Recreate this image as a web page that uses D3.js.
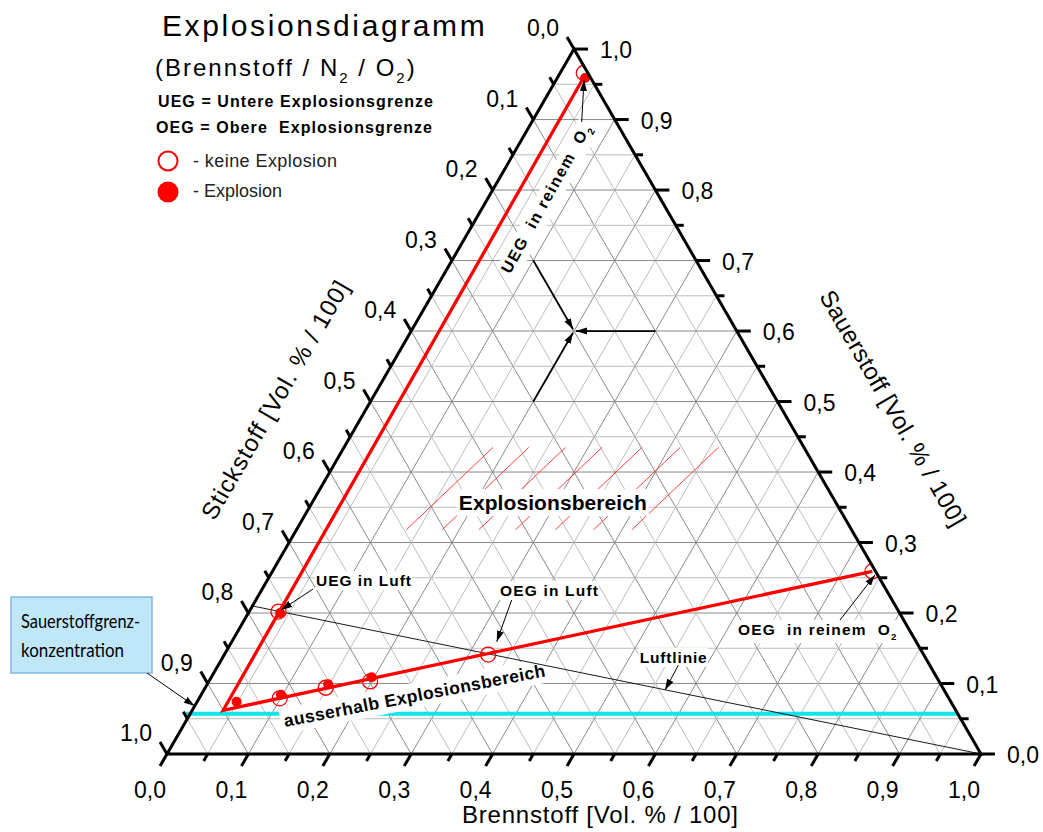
<!DOCTYPE html>
<html>
<head>
<meta charset="utf-8">
<script src="https://cdn.jsdelivr.net/npm/d3@7"></script>
<style>
body { margin: 0; background: #fff; }
svg { display: block; font-family: "Liberation Sans", Arial, sans-serif; }
</style>
</head>
<body>
<div id="chart"></div>
<script>
var w = 1043,
    h = 832;

// Werte als [Brennstoff, Sauerstoff], Stickstoff = 1 - beide
var tickLabels = [0, 0.1, 0.2, 0.3, 0.4, 0.5, 0.6, 0.7, 0.8, 0.9, 1.0];
var uegLine = [[0.032, 0.961], [0.038, 0.062]];
var oegLine = [[0.038, 0.062], [0.737, 0.259]];
var luftLine = [[0, 0.21], [1, 0]];
var sauerstoffGrenze = 0.057;
var keineExplosion = [[0.099, 0.079], [0.148, 0.094], [0.198, 0.103], [0.324, 0.141],
                      [0.036, 0.202], [0.029, 0.966], [0.737, 0.259]];
var explosion = [[0.0485, 0.074], [0.098, 0.084], [0.1485, 0.099], [0.197, 0.109],
                 [0.039, 0.200], [0.034, 0.959]];
var hatchF = [0.135, 0.179, 0.224, 0.269, 0.318, 0.365, 0.412];
var hatchO = [0.318, 0.435];
var readPoint = [0.2, 0.6];
var readFrom = [[0.1, 0.7], [0.3, 0.6], [0.2, 0.5]];

var palette = {
    red: '#ff0000',
    cyan: '#12e4ee',
    gridMajor: '#8a8a8a',
    gridMinor: '#bdbdbd'
};

var side = 814, x0 = 167, y0 = 754;
var s = d3.scaleLinear().domain([0, 1]).range([0, side]);
function tern(f, o) { return [x0 + s(f) + s(o) / 2, y0 - s(o) * Math.sqrt(3) / 2]; }
function tp(d) { return tern(d[0], d[1]); }
var fmt = d3.formatLocale({ decimal: ",", thousands: ".", grouping: [3], currency: ["", " €"] }).format(".1f");

var svg = d3.select('#chart').append('svg')
    .attr('width', w)
    .attr('height', h);

var defs = svg.append('defs');
defs.append('marker')
    .attr('id', 'head')
    .attr('markerUnits', 'userSpaceOnUse')
    .attr('viewBox', '0 -4 11 8')
    .attr('refX', 11).attr('refY', 0)
    .attr('markerWidth', 11).attr('markerHeight', 8)
    .attr('orient', 'auto')
    .append('path').attr('d', 'M0,-3.5L11,0L0,3.5Z').attr('fill', '#000');

var corners = [tern(0, 0), tern(1, 0), tern(0, 1)];
defs.append('clipPath').attr('id', 'tri')
    .append('path').attr('d', 'M' + corners.join('L') + 'Z');

// Gitter alle 0,05
var grid = svg.append('g');
d3.range(1, 20).forEach(function(i) {
    var k = i / 20;
    var col = i % 2 === 0 ? palette.gridMajor : palette.gridMinor;
    [[tern(0, k), tern(1 - k, k)],
     [tern(k, 0), tern(k, 1 - k)],
     [tern(0, 1 - k), tern(1 - k, 0)]].forEach(function(seg) {
        grid.append('line')
            .attr('x1', seg[0][0]).attr('y1', seg[0][1])
            .attr('x2', seg[1][0]).attr('y2', seg[1][1])
            .attr('stroke', col).attr('stroke-width', 1);
    });
});

// Sauerstoffgrenzkonzentration
var c1 = tern(0, sauerstoffGrenze), c2 = tern(1 - sauerstoffGrenze, sauerstoffGrenze);
svg.append('line')
    .attr('x1', c1[0] - 4).attr('y1', c1[1])
    .attr('x2', c2[0]).attr('y2', c2[1])
    .attr('stroke', palette.cyan).attr('stroke-width', 4);

// Schraffur Explosionsbereich
svg.append('g').selectAll('line')
    .data(hatchF).enter().append('line')
    .attr('x1', function(d) { return tern(d, hatchO[0])[0]; })
    .attr('y1', function(d) { return tern(d, hatchO[0])[1]; })
    .attr('x2', function(d) { return tern(d + 0.048, hatchO[1])[0]; })
    .attr('y2', function(d) { return tern(d + 0.048, hatchO[1])[1]; })
    .attr('stroke', '#ff2a2a').attr('stroke-width', 0.9);

// Beschriftungen mit weissem Hintergrund
function addLabel(pos, angle, build, pad, padBottom) {
    var g = svg.append('g').attr('transform', 'translate(' + pos + ') rotate(' + angle + ')');
    var bg = g.append('rect').attr('fill', '#fff');
    var t = g.append('text').attr('font-weight', 'bold').style('white-space', 'pre');
    build(t);
    var b = t.node().getBBox();
    var pb = padBottom === undefined ? pad : padBottom;
    bg.attr('x', b.x - pad).attr('y', b.y - pad)
        .attr('width', b.width + 2 * pad).attr('height', b.height + pad + pb);
    return t;
}
function sub(t, main, small) {
    t.append('tspan').text(main);
    t.append('tspan').attr('font-size', '0.62em').attr('dy', 5).text(small);
}

addLabel(tern(0.064, 0.238), 0, function(t) {
    t.attr('font-size', 15.5).attr('textLength', 95).attr('lengthAdjust', 'spacing').text('UEG in Luft');
}, 1);
addLabel(tern(0.297, 0.224), 0, function(t) {
    t.attr('font-size', 15.5).attr('textLength', 98).attr('lengthAdjust', 'spacing').text('OEG in Luft');
}, 1);
addLabel(tern(0.516, 0.1295), 0, function(t) {
    t.attr('font-size', 15.5).attr('textLength', 67).attr('lengthAdjust', 'spacing').text('Luftlinie');
}, 1);
addLabel(tern(0.617, 0.1688), 0, function(t) {
    t.attr('font-size', 15.5).attr('letter-spacing', 1.2);
    sub(t, 'OEG  in reinem  O', '2');
}, 1);
addLabel(tern(0.0713, 0.7887), -61, function(t) {
    t.attr('font-size', 16).attr('letter-spacing', 1.5)
        .attr('text-anchor', 'middle').attr('dy', '0.35em');
    sub(t, 'UEG  in reinem  O', '2');
}, 1);
addLabel(tern(0.301, 0.346), 0, function(t) {
    t.attr('font-size', 21).attr('text-anchor', 'middle')
        .attr('textLength', 188).attr('lengthAdjust', 'spacing')
        .text('Explosionsbereich');
}, 2);
addLabel(tern(0.1258, 0.0383), -11, function(t) {
    t.attr('font-size', 17.5).attr('textLength', 266).attr('lengthAdjust', 'spacing')
        .text('ausserhalb Explosionsbereich');
}, 3, 2.5);

// Luftlinie
var line = d3.line().x(function(d) { return tp(d)[0]; }).y(function(d) { return tp(d)[1]; });
svg.append('path').attr('d', line(luftLine))
    .attr('fill', 'none').attr('stroke', '#000').attr('stroke-width', 0.9);

// UEG / OEG
svg.append('path').attr('d', line(uegLine.concat(oegLine.slice(1))))
    .attr('fill', 'none').attr('stroke', palette.red)
    .attr('stroke-width', 3.3).attr('stroke-linejoin', 'miter');

var pts = svg.append('g').attr('clip-path', 'url(#tri)');
pts.selectAll('circle.e')
    .data(explosion).enter().append('circle')
    .attr('cx', function(d) { return tp(d)[0]; })
    .attr('cy', function(d) { return tp(d)[1]; })
    .attr('r', 5).attr('fill', palette.red);
pts.selectAll('circle.k')
    .data(keineExplosion).enter().append('circle')
    .attr('cx', function(d) { return tp(d)[0]; })
    .attr('cy', function(d) { return tp(d)[1]; })
    .attr('r', 7.5).attr('fill', 'none')
    .attr('stroke', palette.red).attr('stroke-width', 1.3);

// Pfeile
function arrow(a, b, shorten, width) {
    var dx = b[0] - a[0], dy = b[1] - a[1], len = Math.sqrt(dx * dx + dy * dy);
    var k = (len - (shorten || 0)) / len;
    svg.append('line')
        .attr('x1', a[0]).attr('y1', a[1])
        .attr('x2', a[0] + dx * k).attr('y2', a[1] + dy * k)
        .attr('stroke', '#000').attr('stroke-width', width || 1)
        .attr('marker-end', 'url(#head)');
}
arrow(tern(0.0624, 0.234), tern(0.038, 0.2043));
arrow(tern(0.3142, 0.2184), tern(0.3254, 0.1593));
arrow(tern(0.5652, 0.1262), tern(0.5665, 0.0908));
arrow(tern(0.7318, 0.190), tern(0.7428, 0.2539));
arrow(tern(0.0612, 0.8965), tern(0.0343, 0.956));
readFrom.forEach(function(d) { arrow(tp(d), tp(readPoint), 2, 1.8); });

// Rahmen und Achsen
svg.append('path').attr('d', 'M' + corners.join('L') + 'Z')
    .attr('fill', 'none').attr('stroke', '#000')
    .attr('stroke-width', 3).attr('stroke-linejoin', 'miter');

var sin60 = Math.sqrt(3) / 2;
var axes = [
    { pos: function(t) { return tern(t, 0); }, dir: [-0.5, sin60], off: [-17, 36], anchor: 'middle' },
    { pos: function(t) { return tern(1 - t, t); }, dir: [1, 0], off: [26, 1], anchor: 'start' },
    { pos: function(t) { return tern(0, 1 - t); }, dir: [-0.5, -sin60], off: [-31, -21], anchor: 'middle' }
];
var tickG = svg.append('g');
axes.forEach(function(ax) {
    d3.range(0, 21).forEach(function(i) {
        var p = ax.pos(i / 20), L = i % 2 === 0 ? 14 : 8;
        tickG.append('line')
            .attr('x1', p[0]).attr('y1', p[1])
            .attr('x2', p[0] + ax.dir[0] * L).attr('y2', p[1] + ax.dir[1] * L)
            .attr('stroke', '#000').attr('stroke-width', 3);
    });
    tickG.selectAll(null).data(tickLabels).enter().append('text')
        .attr('x', function(d) { return ax.pos(d)[0] + ax.off[0]; })
        .attr('y', function(d) { return ax.pos(d)[1] + ax.off[1]; })
        .attr('text-anchor', ax.anchor)
        .attr('dy', '0.35em')
        .attr('font-size', 23)
        .text(function(d) { return fmt(d); });
});

// Achsentitel
svg.append('text').attr('x', 600).attr('y', 823)
    .attr('text-anchor', 'middle').attr('font-size', 24)
    .attr('textLength', 276).attr('lengthAdjust', 'spacing')
    .text('Brennstoff [Vol. % / 100]');
svg.append('text').attr('transform', 'translate(275,400) rotate(-60)')
    .attr('text-anchor', 'middle').attr('dy', '0.35em').attr('font-size', 24)
    .attr('textLength', 271).attr('lengthAdjust', 'spacing')
    .text('Stickstoff [Vol. % / 100]');
svg.append('text').attr('transform', 'translate(893,408) rotate(60)')
    .attr('text-anchor', 'middle').attr('dy', '0.35em').attr('font-size', 24)
    .attr('textLength', 268).attr('lengthAdjust', 'spacing')
    .text('Sauerstoff [Vol. % / 100]');

// Titel und Legende
svg.append('text').attr('x', 162).attr('y', 36)
    .attr('font-size', 30).attr('letter-spacing', 2.6)
    .text('Explosionsdiagramm');
var st = svg.append('text').attr('x', 155).attr('y', 76)
    .attr('font-size', 24).attr('letter-spacing', 2);
st.append('tspan').text('(Brennstoff / N');
st.append('tspan').attr('font-size', 15).attr('dy', 7).text('2');
st.append('tspan').attr('dy', -7).text(' / O');
st.append('tspan').attr('font-size', 15).attr('dy', 7).text('2');
st.append('tspan').attr('dy', -7).text(')');

svg.append('text').attr('x', 158).attr('y', 107)
    .attr('font-size', 16).attr('font-weight', 'bold')
    .attr('textLength', 275).attr('lengthAdjust', 'spacing')
    .text('UEG = Untere Explosionsgrenze');
svg.append('text').attr('x', 156).attr('y', 133)
    .attr('font-size', 16).attr('font-weight', 'bold').style('white-space', 'pre')
    .attr('textLength', 276).attr('lengthAdjust', 'spacing')
    .text('OEG = Obere  Explosionsgrenze');

svg.append('circle').attr('cx', 168).attr('cy', 161).attr('r', 9.5)
    .attr('fill', 'none').attr('stroke', palette.red).attr('stroke-width', 2);
svg.append('circle').attr('cx', 168).attr('cy', 192).attr('r', 10.5)
    .attr('fill', palette.red);
svg.append('text').attr('x', 193).attr('y', 167)
    .attr('font-size', 18).attr('fill', '#222')
    .attr('textLength', 144).attr('lengthAdjust', 'spacing')
    .text('- keine Explosion');
svg.append('text').attr('x', 193).attr('y', 197)
    .attr('font-size', 18).attr('fill', '#222')
    .text('- Explosion');

// Sauerstoffgrenzkonzentration Hinweis
svg.append('rect').attr('x', 11).attr('y', 597).attr('width', 141).attr('height', 76)
    .attr('fill', '#bfe7f8').attr('stroke', '#86b6dc').attr('stroke-width', 1.5);
svg.append('text').attr('x', 21).attr('y', 628)
    .attr('font-family', 'Lato, sans-serif').attr('font-size', 20)
    .attr('textLength', 119).attr('lengthAdjust', 'spacingAndGlyphs')
    .text('Sauerstoffgrenz-');
svg.append('text').attr('x', 21).attr('y', 657)
    .attr('font-family', 'Lato, sans-serif').attr('font-size', 20)
    .attr('textLength', 103).attr('lengthAdjust', 'spacingAndGlyphs')
    .text('konzentration');
arrow([147, 673], tern(0, 0.068));
</script>
</body>
</html>
